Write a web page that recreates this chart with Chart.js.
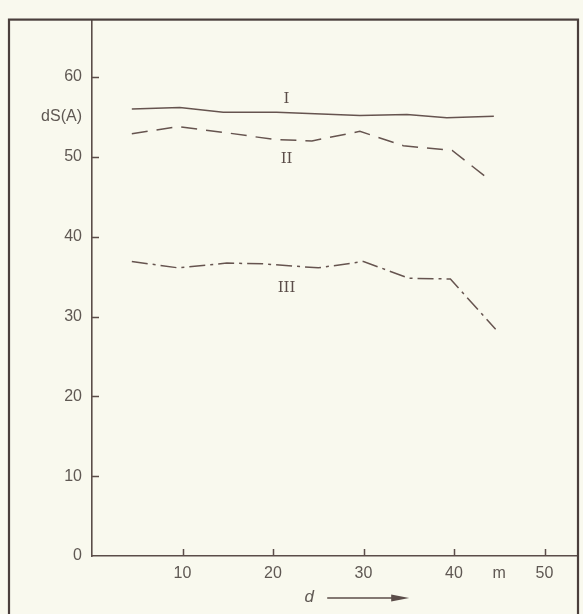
<!DOCTYPE html>
<html>
<head>
<meta charset="utf-8">
<script src="https://cdn.jsdelivr.net/npm/chart.js@4/dist/chart.umd.min.js"></script>
<style>
  html, body { margin: 0; padding: 0; background: #f9f9ee; }
  #wrap { width: 583px; height: 614px; }
</style>
</head>
<body>
<div id="wrap"><canvas id="c" width="583" height="614"></canvas></div>
<script>
// Sound level dS(A) against distance d (m) for three situations I, II, III
const distI   = [4.4, 9.7, 14.5, 20.4, 29.6, 34.8, 39.2, 44.4];
const levelI  = [56.0, 56.2, 55.6, 55.6, 55.2, 55.3, 54.9, 55.1];

const distII  = [4.4, 9.5, 15.0, 20.0, 24.3, 29.6, 34.4, 39.8, 43.4];
const levelII = [52.9, 53.8, 53.0, 52.2, 52.0, 53.2, 51.4, 50.8, 47.6];

const distIII  = [4.4, 9.5, 14.9, 18.9, 25.0, 30.0, 35.0, 39.6, 44.6];
const levelIII = [36.9, 36.1, 36.7, 36.6, 36.1, 36.9, 34.8, 34.7, 28.4];

const curveNames = ['I', 'II', 'III'];
const yTickValues = [0, 10, 20, 30, 40, 50, 60];
const xTickValues = [10, 20, 30, 40, 50];
const xUnit = 'm';
const yUnit = 'dS(A)';
const xName = 'd';

const ink = '#5b4d49';
const textInk = '#5f5853';
const paper = '#f9f9ee';
const tickFont = { family: 'Liberation Sans', size: 16 };

function points(xs, ys) { return xs.map((x, i) => ({ x: x, y: ys[i] })); }

const decorations = {
  id: 'decorations',
  beforeDraw(chart) {
    const ctx = chart.ctx;
    ctx.save();
    ctx.fillStyle = paper;
    ctx.fillRect(0, 0, chart.width, chart.height);
    ctx.restore();
  },
  afterDraw(chart, args, opts) {
    const ctx = chart.ctx;
    const xs = chart.scales.x, ys = chart.scales.y;
    const area = chart.chartArea;
    ctx.save();
    ctx.strokeStyle = ink;
    ctx.lineWidth = 1.5;
    // inward tick marks
    ctx.beginPath();
    yTickValues.filter(v => v > 0).forEach(v => {
      const py = Math.round(ys.getPixelForValue(v)) + 0.5;
      ctx.moveTo(area.left, py);
      ctx.lineTo(area.left + 7, py);
    });
    xTickValues.forEach(v => {
      const px = Math.round(xs.getPixelForValue(v)) + 0.5;
      ctx.moveTo(px, area.bottom);
      ctx.lineTo(px, area.bottom - 7);
    });
    ctx.stroke();

    // outer frame
    ctx.lineWidth = 2.2;
    ctx.strokeStyle = '#4b3f3c';
    ctx.strokeRect(9, area.top, area.right - 9, chart.height + 20);

    // curve names
    ctx.fillStyle = ink;
    ctx.font = '15px "DejaVu Serif"';
    ctx.textAlign = 'center';
    ctx.textBaseline = 'middle';
    opts.names.forEach(n => {
      ctx.fillText(n.text, xs.getPixelForValue(n.x), ys.getPixelForValue(n.y));
    });

    // y unit label
    ctx.fillStyle = textInk;
    ctx.font = '16px "Liberation Sans"';
    ctx.textAlign = 'right';
    ctx.fillText(yUnit, area.left - 10, ys.getPixelForValue(opts.yUnitAt));

    // x axis name with arrow
    const dx = xs.getPixelForValue(opts.xNameAt);
    const dy = area.bottom + 41;
    ctx.font = 'italic 17px "Liberation Sans"';
    ctx.textAlign = 'center';
    ctx.fillText(xName, dx, dy);
    ctx.strokeStyle = ink;
    ctx.lineWidth = 1.4;
    ctx.beginPath();
    ctx.moveTo(dx + 18, dy + 1);
    ctx.lineTo(dx + 88, dy + 1);
    ctx.stroke();
    ctx.fillStyle = ink;
    ctx.beginPath();
    ctx.moveTo(dx + 100, dy + 1);
    ctx.lineTo(dx + 82, dy - 2.5);
    ctx.lineTo(dx + 82, dy + 4.5);
    ctx.closePath();
    ctx.fill();
    ctx.restore();
  }
};

const lineStyle = {
  borderColor: '#66544f',
  borderWidth: 1.5,
  pointRadius: 0,
  tension: 0,
  fill: false
};

new Chart(document.getElementById('c'), {
  type: 'line',
  data: {
    datasets: [
      Object.assign({ label: curveNames[0], data: points(distI, levelI) }, lineStyle),
      Object.assign({ label: curveNames[1], data: points(distII, levelII), borderDash: [16, 9] }, lineStyle),
      Object.assign({ label: curveNames[2], data: points(distIII, levelIII), borderDash: [16, 5, 3, 5] }, lineStyle)
    ]
  },
  options: {
    responsive: false,
    animation: false,
    devicePixelRatio: 1,
    layout: { padding: { left: 0, top: 13, right: 5, bottom: 0 } },
    plugins: {
      legend: { display: false },
      tooltip: { enabled: false },
      decorations: {
        names: [
          { text: curveNames[0], x: 21.5, y: 57.3 },
          { text: curveNames[1], x: 21.5, y: 49.7 },
          { text: curveNames[2], x: 21.5, y: 33.6 }
        ],
        yUnitAt: 55.1,
        xNameAt: 24.0
      }
    },
    scales: {
      x: {
        type: 'linear',
        min: 0,
        max: 53.7,
        grid: { display: false, drawTicks: false },
        border: { display: true, color: ink, width: 1.6 },
        afterBuildTicks(scale) {
          scale.ticks = xTickValues.concat([45]).sort((a, b) => a - b).map(v => ({ value: v }));
        },
        afterFit(scale) { scale.height = 58; },
        ticks: {
          autoSkip: false,
          maxRotation: 0,
          padding: 8,
          color: textInk,
          font: tickFont,
          callback: v => (v === 45 ? xUnit : String(v))
        }
      },
      y: {
        type: 'linear',
        min: 0,
        max: 67.2,
        grid: { display: false, drawTicks: false },
        border: { display: true, color: ink, width: 1.6 },
        afterBuildTicks(scale) {
          scale.ticks = yTickValues.map(v => ({ value: v }));
        },
        afterFit(scale) { scale.width = 92; },
        ticks: {
          padding: 10,
          color: textInk,
          font: tickFont
        }
      }
    }
  },
  plugins: [decorations]
});
</script>
</body>
</html>
